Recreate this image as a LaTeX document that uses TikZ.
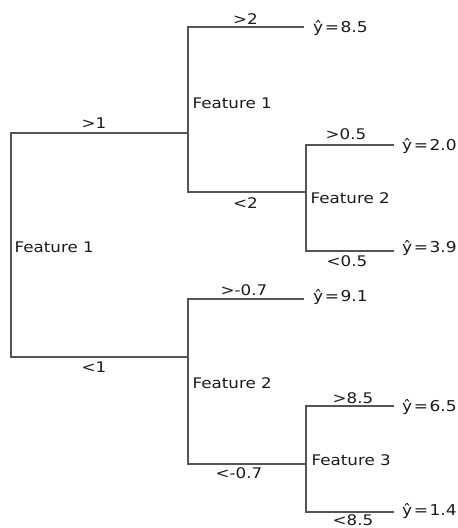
\documentclass[tikz,border=0pt]{standalone}
\usepackage{fontspec}
\setmainfont{DejaVu Sans}[FakeStretch=1.14]
\definecolor{linegray}{HTML}{555555}
\definecolor{textdark}{HTML}{1A1A1A}
\newcommand\labfont{\fontsize{14.7}{17}\selectfont}
\newcommand\leaffont{\fontsize{15}{18}\selectfont}
\newcommand\eqsp{\hspace{0.1em}=\hspace{0.1em}}
\begin{document}
\begin{tikzpicture}[x=1bp,y=-1bp,
  branch/.style={draw=linegray, line width=1.5bp, line cap=rect},
  feat/.style={anchor=base west, inner sep=0pt, font=\labfont, text=textdark},
  cond/.style={anchor=base, inner sep=0pt, font=\labfont, text=textdark},
  leaf/.style={anchor=base west, inner sep=0pt, font=\leaffont, text=textdark}]
\useasboundingbox (0,0) rectangle (458,528);
% split coordinates
\coordinate (rt) at (11,133);
\coordinate (rb) at (11,357);
\coordinate (at) at (188,27);
\coordinate (am) at (188,133);
\coordinate (ab) at (188,192);
\coordinate (ct) at (188,299);
\coordinate (cm) at (188,357);
\coordinate (cb) at (188,464);
\coordinate (bt) at (306,145);
\coordinate (bm) at (306,192);
\coordinate (bb) at (306,251);
\coordinate (dt) at (306,406);
\coordinate (dm) at (306,464);
\coordinate (db) at (306,512);
% leaf ends
\coordinate (e1) at (303,27);
\coordinate (e2) at (393,145);
\coordinate (e3) at (393,251);
\coordinate (e4) at (303,299);
\coordinate (e5) at (393,406);
\coordinate (e6) at (393,512);
% lines
\draw[branch] (rt) -- (rb);
\draw[branch] (rt) -- (am);
\draw[branch] (rb) -- (cm);
\draw[branch] (at) -- (ab);
\draw[branch] (at) -- (e1);
\draw[branch] (ab) -- (bm);
\draw[branch] (bt) -- (bb);
\draw[branch] (bt) -- (e2);
\draw[branch] (bb) -- (e3);
\draw[branch] (ct) -- (cb);
\draw[branch] (ct) -- (e4);
\draw[branch] (cb) -- (dm);
\draw[branch] (dt) -- (db);
\draw[branch] (dt) -- (e5);
\draw[branch] (db) -- (e6);
% feature labels
\node[feat] (froot) at (14.5,252) {Feature 1};
\node[feat] (fa) at (192.5,109) {Feature 1};
\node[feat] (fb) at (310.5,204) {Feature 2};
\node[feat] (fc) at (192.5,388) {Feature 2};
\node[feat] (fd) at (311.5,465) {Feature 3};
% condition labels
\node[cond] (c1) at (94,129) {>1};
\node[cond] (c2) at (94,372) {<1};
\node[cond] (c3) at (245.5,25) {>2};
\node[cond] (c4) at (245.5,209) {<2};
\node[cond] (c5) at (346,140) {>0.5};
\node[cond] (c6) at (347,266) {<0.5};
\node[cond] (c7) at (244,295) {>-0.7};
\node[cond] (c8) at (239,478) {<-0.7};
\node[cond] (c9) at (353,403) {>8.5};
\node[cond] (c10) at (353,525) {<8.5};
% leaves
\node[leaf] (l1) at (313,33) {ŷ\eqsp8.5};
\node[leaf] (l2) at (402,151) {ŷ\eqsp2.0};
\node[leaf] (l3) at (402,252) {ŷ\eqsp3.9};
\node[leaf] (l4) at (313,301) {ŷ\eqsp9.1};
\node[leaf] (l5) at (402,411) {ŷ\eqsp6.5};
\node[leaf] (l6) at (402,515) {ŷ\eqsp1.4};
\end{tikzpicture}
\end{document}
